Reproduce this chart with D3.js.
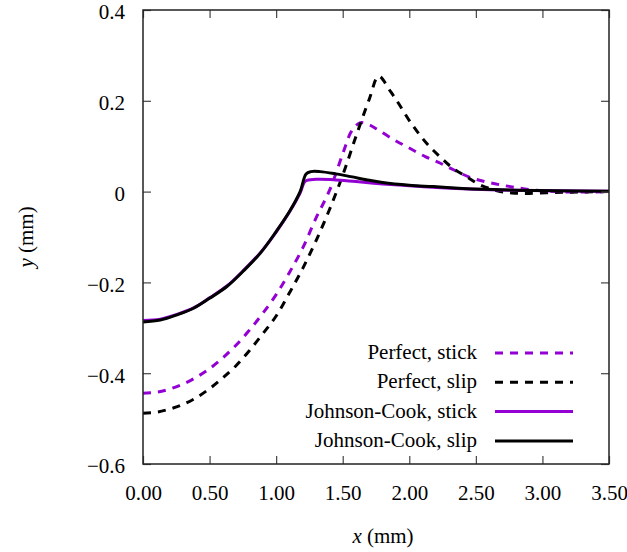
<!DOCTYPE html>
<html lang="en">
	<head>
		<meta charset="utf-8">
		<title>D3: deflection profiles</title>
		<script type="text/javascript" src="https://d3js.org/d3.v7.min.js"></script>
		<style>
			body { margin: 0; background: #fff; }
			text { font-family: "Liberation Serif", "Times New Roman", serif; fill: #000; }
		</style>
	</head>
	<body>
		<script type="text/javascript">

			//Width and height
			var w = 627;
			var h = 552;

			//Tick values and labels
			var xTicks = [0, 0.5, 1, 1.5, 2, 2.5, 3, 3.5];
			var yTicks = [0.4, 0.2, 0, -0.2, -0.4, -0.6];

			//Perfect, stick (purple dashed)
			var pStickX = [0, 0.1, 0.2, 0.3, 0.4, 0.5, 0.6, 0.7, 0.8, 0.9, 1.0, 1.1, 1.2, 1.3, 1.4, 1.5, 1.56, 1.6, 1.64, 1.70, 1.76, 1.88, 2.00, 2.12, 2.23, 2.34, 2.45, 2.57, 2.68, 2.80, 2.95, 3.10, 3.30, 3.50];
			var pStickY = [-0.444, -0.442, -0.435, -0.424, -0.409, -0.390, -0.366, -0.338, -0.305, -0.268, -0.227, -0.178, -0.124, -0.058, 0.002, 0.083, 0.130, 0.146, 0.152, 0.147, 0.137, 0.115, 0.096, 0.077, 0.063, 0.047, 0.032, 0.022, 0.015, 0.009, 0.003, 0.000, -0.001, 0.000];

			//Perfect, slip (black dashed)
			var pSlipX = [0, 0.1, 0.2, 0.3, 0.4, 0.5, 0.6, 0.7, 0.8, 0.9, 1.0, 1.1, 1.2, 1.3, 1.4, 1.5, 1.6, 1.7, 1.77, 1.86, 1.92, 1.99, 2.06, 2.14, 2.23, 2.33, 2.43, 2.53, 2.66, 2.77, 2.90, 3.10, 3.30, 3.50];
			var pSlipY = [-0.488, -0.486, -0.479, -0.469, -0.454, -0.434, -0.410, -0.383, -0.350, -0.313, -0.274, -0.223, -0.169, -0.108, -0.040, 0.036, 0.122, 0.204, 0.254, 0.220, 0.194, 0.161, 0.132, 0.103, 0.077, 0.051, 0.033, 0.015, 0.002, -0.003, -0.004, -0.002, -0.001, 0.000];

			//Johnson-Cook, stick (purple solid)
			var jcStickX = [0, 0.13, 0.25, 0.38, 0.50, 0.63, 0.75, 0.88, 1.00, 1.10, 1.18, 1.22, 1.30, 1.43, 1.60, 1.80, 2.00, 2.20, 2.50, 2.80, 3.10, 3.50];
			var jcStickY = [-0.284, -0.281, -0.271, -0.256, -0.234, -0.208, -0.175, -0.135, -0.089, -0.045, -0.003, 0.023, 0.027, 0.026, 0.022, 0.017, 0.013, 0.009, 0.005, 0.003, 0.002, 0.001];

			//Johnson-Cook, slip (black solid)
			var jcSlipX = [0, 0.13, 0.25, 0.38, 0.50, 0.63, 0.75, 0.88, 1.00, 1.10, 1.18, 1.225, 1.26, 1.33, 1.45, 1.56, 1.70, 1.80, 2.00, 2.18, 2.40, 2.56, 2.80, 3.10, 3.50];
			var jcSlipY = [-0.287, -0.283, -0.272, -0.257, -0.235, -0.209, -0.176, -0.136, -0.088, -0.044, 0.000, 0.039, 0.044, 0.044, 0.039, 0.033, 0.025, 0.020, 0.014, 0.011, 0.007, 0.005, 0.003, 0.002, 0.001];

			var purple = "#9400d3";

			var series = [
				{ name: "Perfect, stick", xs: pStickX, ys: pStickY, color: purple, dash: "8,7" },
				{ name: "Perfect, slip", xs: pSlipX, ys: pSlipY, color: "#000", dash: "8,7" },
				{ name: "Johnson-Cook, stick", xs: jcStickX, ys: jcStickY, color: purple, dash: null },
				{ name: "Johnson-Cook, slip", xs: jcSlipX, ys: jcSlipY, color: "#000", dash: null }
			];

			//Plot area
			var pLeft = 143, pRight = 609, pTop = 10, pBottom = 464;
			var fs = 21;

			var x = d3.scaleLinear().domain([0, 3.5]).range([pLeft, pRight]);
			var y = d3.scaleLinear().domain([-0.6, 0.4]).range([pBottom, pTop]);

			var svg = d3.select("body")
						.append("svg")
						.attr("width", w)
						.attr("height", h);

			var line = d3.line()
				.x(function(d) { return x(d[0]); })
				.y(function(d) { return y(d[1]); })
				.curve(d3.curveCatmullRom.alpha(0.5));

			svg.append("clipPath").attr("id", "clip")
				.append("rect")
				.attr("x", pLeft).attr("y", pTop)
				.attr("width", pRight - pLeft).attr("height", pBottom - pTop);

			series.forEach(function(s) {
				var pts = s.xs.map(function(v, i) { return [v, s.ys[i]]; });
				svg.append("path")
					.datum(pts)
					.attr("clip-path", "url(#clip)")
					.attr("d", line)
					.attr("fill", "none")
					.attr("stroke", s.color)
					.attr("stroke-width", 3)
					.attr("stroke-dasharray", s.dash);
			});

			//Axes, ticks pointing inward on all four sides
			var fmtX = d3.format(".2f");
			var fmtY = function(d) { return d === 0 ? "0" : d3.format(".1f")(d).replace("-", "\u2212"); };

			svg.append("g")
				.attr("transform", "translate(0," + pBottom + ")")
				.call(d3.axisBottom(x).tickValues(xTicks).tickFormat(fmtX).tickSizeInner(-8).tickSizeOuter(0).tickPadding(21));
			svg.append("g")
				.attr("transform", "translate(0," + pTop + ")")
				.call(d3.axisTop(x).tickValues(xTicks).tickFormat("").tickSizeInner(-8).tickSizeOuter(0));
			var yAxis = svg.append("g")
				.attr("transform", "translate(" + pLeft + ",0)")
				.call(d3.axisLeft(y).tickValues(yTicks).tickFormat(fmtY).tickSizeInner(-8).tickSizeOuter(0).tickPadding(18));
			yAxis.selectAll(".tick text").attr("dy", "0.42em");
			svg.append("g")
				.attr("transform", "translate(" + pRight + ",0)")
				.call(d3.axisRight(y).tickValues(yTicks).tickFormat("").tickSizeInner(-8).tickSizeOuter(0));

			svg.selectAll(".tick line").attr("stroke", "#444").attr("stroke-width", 1.2);
			svg.selectAll(".domain").remove();
			svg.selectAll(".tick text").attr("font-family", "Liberation Serif").attr("font-size", fs).attr("fill", "#000");

			svg.append("rect")
				.attr("x", pLeft).attr("y", pTop)
				.attr("width", pRight - pLeft).attr("height", pBottom - pTop)
				.attr("fill", "none")
				.attr("stroke", "#222")
				.attr("stroke-width", 1.5);

			//Axis titles
			var xl = svg.append("text")
				.attr("x", 383).attr("y", 543)
				.attr("text-anchor", "middle")
				.attr("font-size", fs);
			xl.append("tspan").attr("font-style", "italic").text("x");
			xl.append("tspan").text(" (mm)");

			var yl = svg.append("text")
				.attr("transform", "translate(33,237) rotate(-90)")
				.attr("text-anchor", "middle")
				.attr("font-size", fs);
			yl.append("tspan").attr("font-style", "italic").text("y");
			yl.append("tspan").text(" (mm)");

			//Legend
			var legend = svg.append("g").attr("class", "legend");
			series.forEach(function(s, i) {
				var ly = 353 + i * 29.3;
				legend.append("text")
					.attr("x", 477).attr("y", ly + 6)
					.attr("text-anchor", "end")
					.attr("font-size", fs)
					.text(s.name);
				legend.append("line")
					.attr("x1", 495).attr("x2", 573)
					.attr("y1", ly).attr("y2", ly)
					.attr("stroke", s.color)
					.attr("stroke-width", 3)
					.attr("stroke-dasharray", s.dash);
			});

		</script>
	</body>
</html>
